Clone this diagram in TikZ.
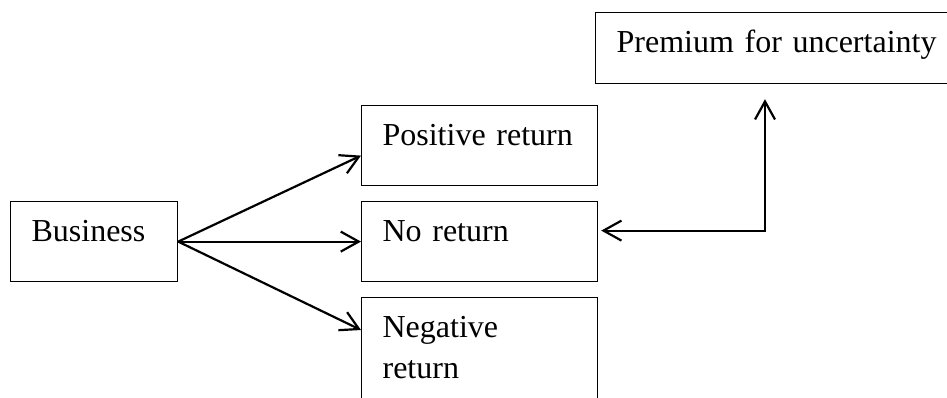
\documentclass[tikz,border=0pt]{standalone}
\usepackage{fontspec}
\setmainfont{Liberation Serif}
\usetikzlibrary{arrows.meta}
\tikzset{
  box/.style={draw, line width=0.6pt, anchor=north west, align=left,
    inner xsep=10.5pt, inner ysep=4pt, text height=16pt, text depth=16pt,
    font=\fontsize{16}{20.5}\selectfont},
  barb/.tip={Straight Barb[length=9pt,width=10pt,line width=1.1pt]},
  link/.style={line width=1.1pt, -{barb}}
}
\begin{document}
\begin{tikzpicture}[x=0.5pt,y=-0.5pt]
      \path[use as bounding box, fill=white] (0,0) rectangle (947,397);
      \node[box, text width=62.5pt] (biz) at (10,201) {Business};
      \node[box, text width=97pt] (pos) at (361,105) {\mbox{Positive return}};
      \node[box, text width=97pt] (nr) at (361,201) {No return};
      \node[box, text width=97pt, text depth=40pt] (neg) at (361,297) {Negative\\return};
      \node[box, text width=180pt, text depth=11.5pt] (prem) at (595,12) {\mbox{Premium for uncertainty}};
      \begin{scope}[link]
        \draw (biz.east) to ([yshift=-5pt]pos.west);
        \draw (biz.east) to (nr.west);
        \draw (biz.east) to ([yshift=-16.5pt]neg.north west);
        \draw[{barb}-{barb}]
          ([shift={(1.5pt,5.5pt)}]nr.east) -| ([shift={(85pt,-7.5pt)}]prem.south west);
      \end{scope}
    \end{tikzpicture}
\end{document}
